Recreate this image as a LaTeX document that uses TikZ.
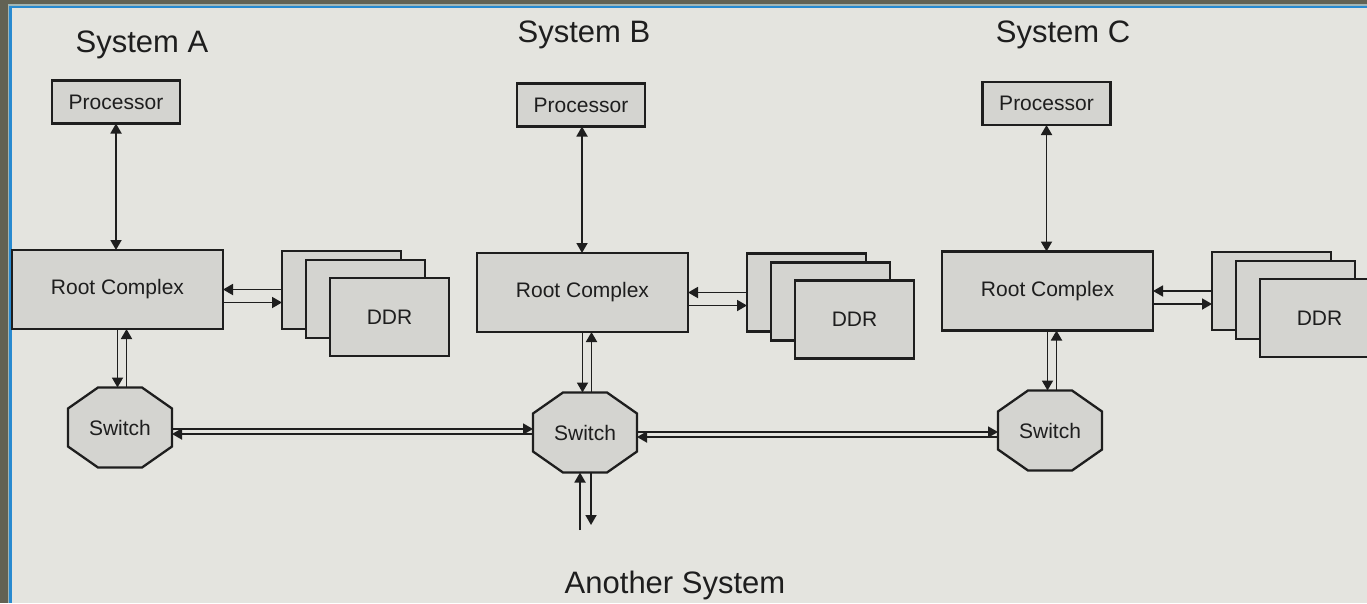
\documentclass[tikz,border=0pt]{standalone}
\usepackage{fontspec}
\setmainfont{Liberation Sans}
\usetikzlibrary{arrows.meta}
\definecolor{outer}{RGB}{98,98,84}
\definecolor{strip}{RGB}{160,182,182}
\definecolor{edgeblue}{RGB}{40,138,208}
\definecolor{panel}{RGB}{228,228,223}
\definecolor{boxfill}{RGB}{212,212,208}
\definecolor{ink}{RGB}{30,30,30}
\pgfdeclarelayer{mid}
\pgfsetlayers{mid,main}
\tikzset{
  blk/.style={draw=ink, fill=boxfill, line width=2.3pt, inner sep=0pt, outer sep=0pt,
              text=ink, font=\fontsize{21}{25}\selectfont},
  proc/.style={blk, minimum width=128pt, minimum height=43pt},
  root/.style={blk, minimum width=211pt, minimum height=79pt},
  ddr/.style={blk, minimum width=119pt, minimum height=78pt},
  swbox/.style={inner sep=0pt, outer sep=0pt, minimum width=104pt, minimum height=80pt,
              text=ink, font=\fontsize{21}{25}\selectfont},
  octfill/.style={draw=ink, fill=boxfill, line width=2.3pt, line join=miter},
  title/.style={anchor=base, text=ink, font=\fontsize{31}{36}\selectfont},
  tip/.tip={Triangle[length=10pt,width=11pt]},
  arr/.style={-tip, draw=ink, line width=1.8pt},
  arrb/.style={tip-tip, draw=ink, line width=1.8pt}
}
\newcommand\octo[1]{%
  \begin{pgfonlayer}{mid}
  \draw[octfill] ([xshift=30pt]#1.north west) -- ([xshift=-30pt]#1.north east)
    -- ([yshift=-21pt]#1.north east) -- ([yshift=21pt]#1.south east)
    -- ([xshift=-30pt]#1.south east) -- ([xshift=30pt]#1.south west)
    -- ([yshift=21pt]#1.south west) -- ([yshift=-21pt]#1.north west) -- cycle;
  \end{pgfonlayer}}
\begin{document}
\begin{tikzpicture}[x=1pt,y=-1pt]
\useasboundingbox (0,0) rectangle (1367,603);
\clip (0,0) rectangle (1367,603);
\begin{pgfonlayer}{mid}
\fill[outer] (0,0) rectangle (1367,603);
\fill[strip] (8,4.3) rectangle (1367,603);
\fill[edgeblue] (9.3,5.7) rectangle (1367,603);
\fill[panel] (11.5,7.5) rectangle (1367,603);
\end{pgfonlayer}

% titles
\node[title] (tA) at (142,52) {System A};
\node[title] (tB) at (584,42) {System B};
\node[title] (tC) at (1063,42) {System C};
\node[title] (tD) at (675,593) {Another System};

% processors
\node[proc] (PA) at (116,102) {Processor};
\node[proc] (PB) at (581,105) {Processor};
\node[proc] (PC) at (1046.5,103.5) {Processor};

% root complexes
\node[root] (RA) at (117.5,289.5) {Root Complex};
\node[root] (RB) at (582.5,292.5) {Root Complex};
\node[root] (RC) at (1047.5,291) {Root Complex};

% DDR stacks
\node[ddr] (DA1) at (341.5,290) {};
\node[ddr] (DA2) at (365.5,299) {};
\node[ddr] (DA3) at (389.5,317) {DDR};
\node[ddr] (DB1) at (806.5,292.5) {};
\node[ddr] (DB2) at (830.5,301.5) {};
\node[ddr] (DB3) at (854.5,319.5) {DDR};
\node[ddr] (DC1) at (1271.5,291) {};
\node[ddr] (DC2) at (1295.5,300) {};
\node[ddr] (DC3) at (1319.5,318) {DDR};

% switches
\node[swbox] (SA) at (120,427.5) {Switch};
\node[swbox] (SB) at (585,432.5) {Switch};
\node[swbox] (SC) at (1050,430.5) {Switch};
\octo{SA}\octo{SB}\octo{SC}

% processor <-> root
\draw[arrb] (PA.south) -- (PA.south |- RA.north);
\draw[arrb] ([xshift=1pt]PB.south) -- ([xshift=1pt]PB.south |- RB.north);
\draw[arrb] (PC.south) -- (PC.south |- RC.north);

% root <-> DDR
\foreach \r/\d in {RA/DA1,RB/DB1,RC/DC1}{
  \draw[arr] (\d.west |- \r.east) -- (\r.east);
  \draw[arr] ([yshift=-13pt]\r.east) -- ([yshift=-13pt]\r.east -| \d.west);
}

% root <-> switch
\foreach \r/\s in {RA/SA,RB/SB,RC/SC}{
  \draw[arr] (\r.south) -- (\r.south |- \s.north);
  \draw[arr] ([xshift=9pt]\r.south |- \s.north) -- ([xshift=9pt]\r.south);
}

% switch <-> switch
\draw[arr] ([yshift=-1.5pt]SA.east) -- ([yshift=-1.5pt]SA.east -| SB.west);
\draw[arr] ([yshift=-6.5pt]SA.east -| SB.west) -- ([yshift=-6.5pt]SA.east);
\draw[arr] ([yshift=0.5pt]SB.east) -- ([yshift=0.5pt]SB.east -| SC.west);
\draw[arr] ([yshift=-4.5pt]SB.east -| SC.west) -- ([yshift=-4.5pt]SB.east);

% to another system
\coordinate (oB1) at (580,530);
\coordinate (oB2) at (591,525);
\draw[arr] (oB1) -- (oB1 |- SB.south);
\draw[arr] (oB2 |- SB.south) -- (oB2);
\end{tikzpicture}
\end{document}
